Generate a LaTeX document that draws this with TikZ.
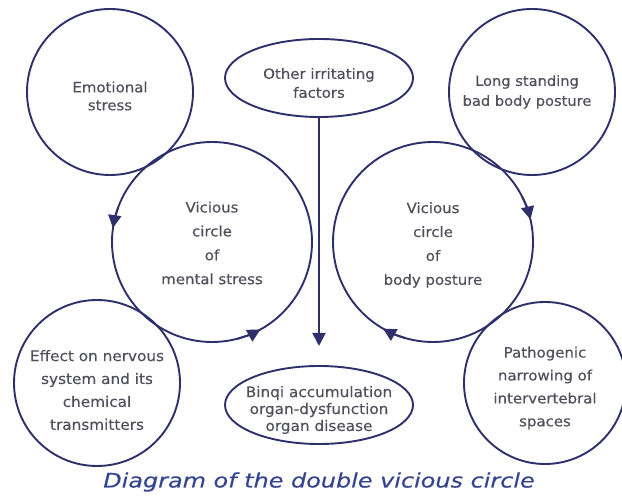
\documentclass[tikz,border=0pt]{standalone}
\usepackage{fontspec}
\setmainfont[FakeStretch=1.05,FakeBold=0.4]{DejaVu Sans}
\newfontfamily\capfont[FakeStretch=1.2,FakeBold=0.3]{DejaVu Sans}
\usetikzlibrary{arrows.meta,shapes.geometric}
\definecolor{ink}{HTML}{2E2F6B}
\definecolor{txt}{HTML}{50505C}
\definecolor{capc}{HTML}{34448F}
\begin{document}
\begin{tikzpicture}[x=1bp,y=1bp,
  every node/.style={text=txt, font=\fontsize{14.3}{18}\selectfont, align=center},
  bub/.style={circle, draw=ink, line width=1.9bp, inner sep=0pt, outer sep=0pt, minimum size=#1},
  oval/.style={ellipse, draw=ink, line width=1.9bp, inner sep=0pt, outer sep=0pt, minimum width=188bp, minimum height=78bp},
  tipln/.style={draw=ink, line width=1.9bp, -{Triangle[length=13bp,width=13bp]}},
]
\useasboundingbox (0,0) rectangle (622,502);
% shapes
\node[bub=166bp] (emo) at (110,410) {};
\node[bub=166bp] (lng) at (532,410) {};
\node[oval] (oth) at (319,424) {};
\node[bub=200bp] (vl) at (212,260) {};
\node[bub=200bp] (vr) at (433,260) {};
\node[bub=166bp] (eff) at (97,119) {};
\node[bub=162bp] (pat) at (545,119) {};
\node[oval] (bin) at (319,97) {};
% texts
\node (emoT) at ([yshift=-4bp]emo.center) {Emotional\\stress};
\node[font=\fontsize{14}{20}\selectfont] (lngT) at ([xshift=-5bp]lng.center) {Long standing\\bad body posture};
\node[font=\fontsize{14.3}{19}\selectfont] (othT) at ([yshift=-5bp]oth.center) {Other irritating\\factors};
\node[font=\fontsize{14.3}{24}\selectfont] (vlT) at ([yshift=-1bp]vl.center) {Vicious\\circle\\of\\mental stress};
\node[font=\fontsize{14.3}{24}\selectfont] (vrT) at ([yshift=-3bp]vr.center) {Vicious\\circle\\of\\body posture};
\node[font=\fontsize{14.6}{23}\selectfont] (effT) at ([yshift=-7bp]eff.center) {Effect on nervous\\system and its\\chemical\\transmitters};
\node[font=\fontsize{14.3}{23}\selectfont] (patT) at ([yshift=-5bp]pat.center) {Pathogenic\\narrowing of\\intervertebral\\spaces};
\node[font=\fontsize{14.6}{17}\selectfont] (binT) at ([yshift=-5bp]bin.center) {Binqi accumulation\\organ-dysfunction\\organ disease};
\node[text=capc, font=\capfont\itshape\fontsize{20}{24}\selectfont] (cap) at (319,20) {Diagram of the double vicious circle};
% arrows
\draw[tipln] (vl.160) arc[start angle=160, end angle=172, radius=100bp];
\draw[tipln] (vl.-75) arc[start angle=-75, end angle=-61, radius=100bp];
\draw[tipln] (vr.27) arc[start angle=27, end angle=13, radius=100bp];
\draw[tipln] (vr.254) arc[start angle=254, end angle=240, radius=100bp];
\draw[tipln, shorten >=20bp] (oth.south) -- (bin.north);
\end{tikzpicture}
\end{document}
